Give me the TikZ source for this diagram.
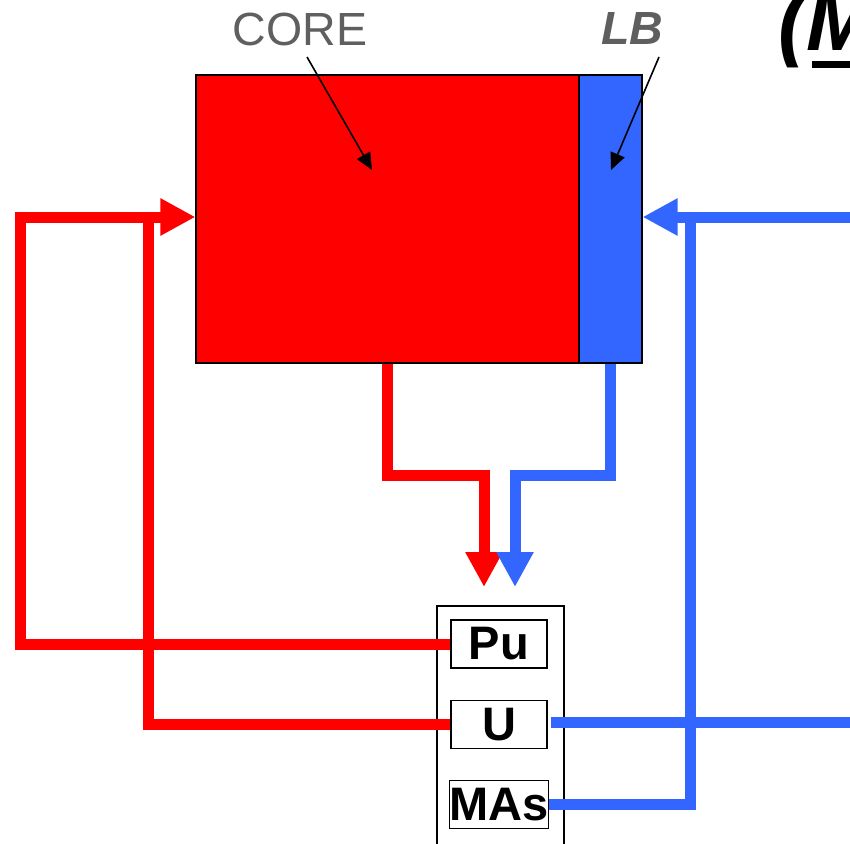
\documentclass[tikz,border=0pt]{standalone}
\usepackage{fontspec}
\setmainfont{Liberation Sans}
\usetikzlibrary{arrows.meta}
\definecolor{cred}{HTML}{FF0000}
\definecolor{cblue}{HTML}{3366FF}
\definecolor{cgray}{HTML}{5F5F5F}
\begin{document}
\begin{tikzpicture}[x=1pt,y=-1pt,
  flow/.style={line width=11pt},
  bighead/.style={-{Triangle[length=35pt,width=35pt]}},
  lbl/.style={font=\fontsize{46.5}{50}\selectfont, text=cgray, inner sep=0pt},
  elem/.style={draw=black, line width=1.5pt, fill=white, minimum width=96pt, minimum height=48pt, inner sep=0pt, font=\fontsize{47}{50}\selectfont\bfseries},
  block/.style={draw=black, line width=1.2pt, minimum height=288pt, inner sep=0pt},
  pointer/.style={line width=1.6pt, -{Triangle[length=17pt,width=15pt]}}
]
\useasboundingbox (0,0) rectangle (850,843);
\clip (0,0) rectangle (850,843);

% main blocks
\node[block, fill=cred, minimum width=383pt] (core) at (387.5,219) {};
\node[block, fill=cblue, minimum width=63pt] (lb) at (610.5,219) {};

% labels
\node[lbl] (corelbl) at (300,29) {CORE};
\node[lbl, font=\fontsize{46.5}{50}\selectfont\bfseries\itshape] (lblbl) at (632,29) {LB};
\node[anchor=base west, inner sep=0pt, font=\fontsize{84}{90}\selectfont\bfseries\itshape] (mark) at (778,51) {(M};
\fill[black] (812,61) rectangle (850,68);

\coordinate (cs) at (307,57);
\coordinate (ct) at (372,170);
\coordinate (ls) at (659,57);
\coordinate (lt) at (611,170);
\draw[pointer] (cs) -- (ct);
\draw[pointer] (ls) -- (lt);

% element stack
\node[draw=black, line width=1.5pt, minimum width=127pt, minimum height=260pt, inner sep=0pt, anchor=north west] (stack) at (436,605) {};
\node[elem] (pu) at (499,644) {Pu};
\node[elem] (u) at (499,724.5) {U};
\node[elem] (mas) at (499,804.5) {MAs};

% coordinates for free ends
\coordinate (rtip) at (484,587);
\coordinate (btip) at (515,587);
\coordinate (rin) at (850,217);
\coordinate (rout) at (850,722);

% downward flows
\draw[flow, cred, bighead] (core.south) |- (484,475) -- (rtip);
\draw[flow, cblue, bighead] (lb.south) |- (515,475) -- (btip);

% red feedback loops
\draw[flow, cred] (u.west) -| (148,217);
\draw[flow, cred, bighead] (pu.west) -| (20,217) -- (core.west |- 0,217);

% blue flows
\draw[flow, cblue] (u.east |- rout) ++(3,0) -- (rout);
\draw[flow, cblue] (mas.east) -| (690,217);
\draw[flow, cblue, bighead] (rin) -- (lb.east |- 0,217);
\end{tikzpicture}
\end{document}
